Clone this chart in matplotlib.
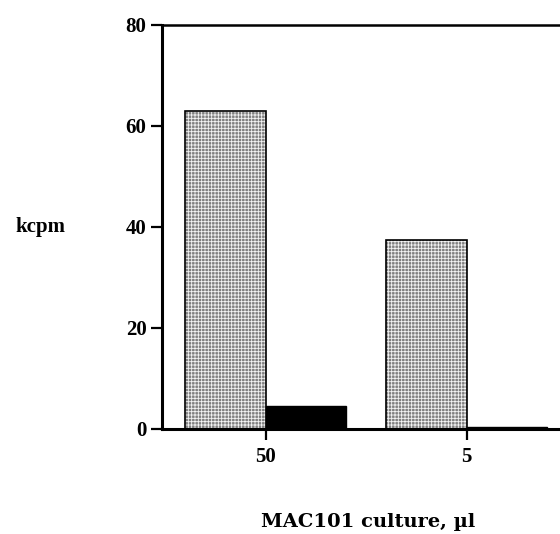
import numpy as np
import matplotlib.pyplot as plt

# MAC101 culture volumes and measured counts (kcpm)
doses = ["50", "5"]
stippled = [62.8, 37.4]
solid = [4.5, 0.3]

plt.rcParams['font.family'] = ['Liberation Serif', 'DejaVu Serif']
plt.rcParams['hatch.linewidth'] = 0.6

fig = plt.figure(figsize=(5.6, 5.34), dpi=100)
ax = fig.add_axes([0.289, 0.197, 0.828, 0.757])

x = np.arange(len(doses))
w = 0.4
# stippled fill: grey with a fine white grid, then a black outline
ax.bar(x - w / 2, stippled, w, color='#808080', edgecolor='#f4f4f4',
       hatch='+++++', linewidth=0, zorder=2)
ax.bar(x - w / 2, stippled, w, facecolor='none', edgecolor='black',
       linewidth=1.2, zorder=3)
ax.bar(x + w / 2, solid, w, color='black', edgecolor='black',
       linewidth=1.0, zorder=3)

ax.set_xlim(-0.517, 1.79)
ax.set_ylim(0, 80)
ax.set_yticks([0, 20, 40, 60, 80])
ax.set_xticks(x)
ax.set_xticklabels(doses)

for s in ['left', 'bottom']:
    ax.spines[s].set_linewidth(2.2)
ax.spines['top'].set_linewidth(1.8)
ax.spines['right'].set_visible(False)
ax.tick_params(axis='both', direction='out', length=8, width=1.6,
               labelsize=15)
ax.tick_params(axis='x', pad=5)
ax.tick_params(axis='y', pad=3)
for lab in ax.get_yticklabels() + ax.get_xticklabels():
    lab.set_fontweight('bold')

fig.text(0.072, 0.575, "kcpm", fontsize=15, fontweight='bold',
         ha='center', va='center')
fig.text(0.657, 0.023, "MAC101 culture, \u00b5l", fontsize=14,
         fontweight='bold', family=['DejaVu Serif'],
         ha='center', va='center')

fig.savefig("out.png", dpi=100)
